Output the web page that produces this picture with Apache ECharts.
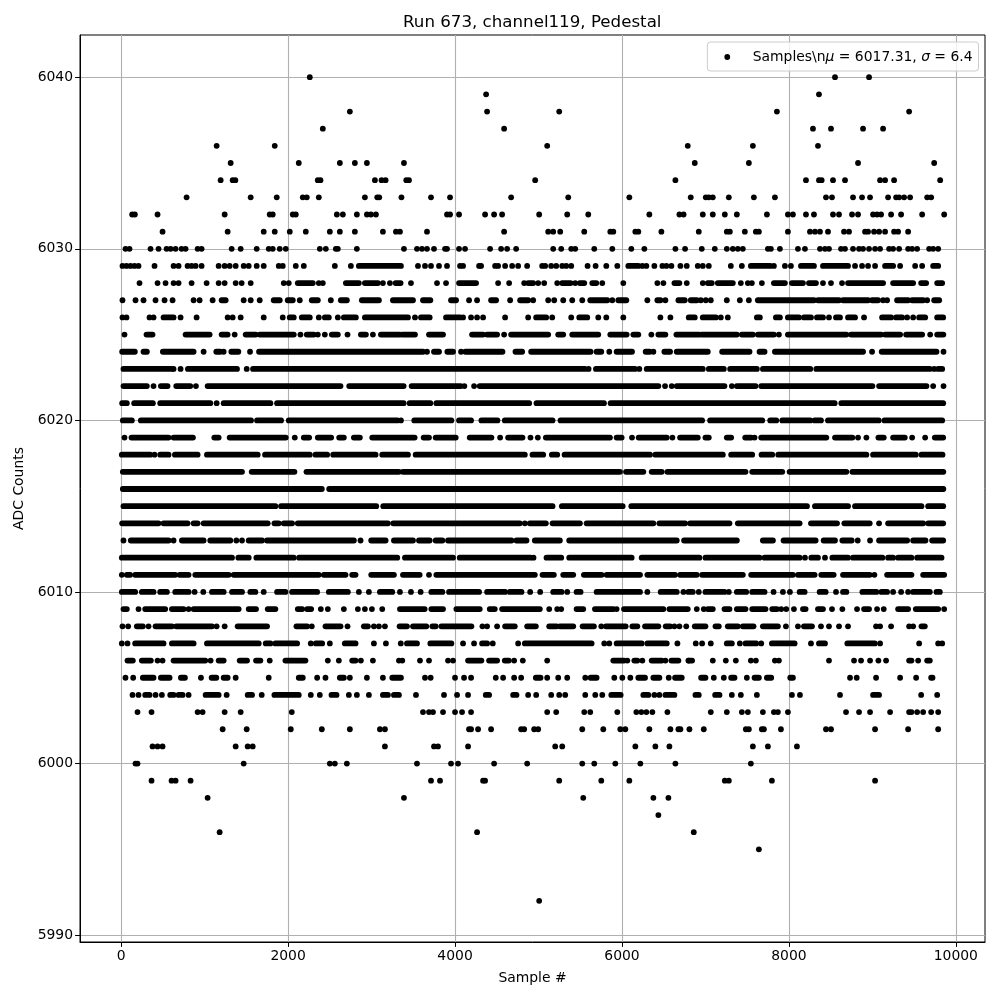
<!DOCTYPE html>
<html><head><meta charset="utf-8">
<style>html,body{margin:0;padding:0;background:#fff}#c{width:1000px;height:1000px}</style>
<script src="https://cdn.jsdelivr.net/npm/echarts@6/dist/echarts.min.js"></script>
</head><body><div id="c"></div>
<script>
// Each list holds the samples seen at one ADC level: a number is a single sample,
// a [first,last] pair is an unbroken run of samples that overlap in the picture.
const L6040=[2260,8552,8960];
const L6039=[4372,8360];
const L6038=[2740,4384,5248,7856,9440];
const L6037=[2416,4588,8288,8504,8888,9128];
const L6036=[1144,1840,5104,6788,7568,8348];
const L6035=[1312,2128,2620,2800,2944,3388,6872,7520,8828,9740];
const L6034=[1192,1336,1368,2356,2388,3040,3120,3168,3416,3448,4960,6640,8204,8360,8392,8528,8672,9092,9152,9260,9812];
const L6033=[784,1552,1864,2176,2224,2368,2920,3068,3092,3358,3712,3940,4672,5356,6088,6824,7004,7040,7088,7280,7580,7832,8444,8516,8768,8876,8972,9188,9284,9320,9380,9452,9656,9704];
const L6032=[132,164,436,1240,1780,1816,2056,2092,2584,2656,2824,2944,2992,3052,3904,3940,4048,4360,4468,4564,5008,5344,5596,6328,6688,6738,6968,7088,7232,7376,7736,7988,8048,8204,8300,8528,8600,8756,8828,9008,9056,9104,9224,9344,9596,9860];
const L6031=[496,1276,1708,1840,2020,2212,2500,2620,2800,3136,3292,3340,3664,4588,5116,5176,5260,5548,5860,5896,6160,6196,6472,6920,7256,7292,7472,7604,7640,7988,8252,8312,8372,8468,8660,8720,8912,8948,9020,9080,9152,9260,9308,9428];
const L6030=[52,100,352,448,544,592,652,724,772,916,964,1324,1432,1624,1768,1816,1900,1972,2380,2452,2572,2596,2824,3388,3544,3604,3664,3748,3880,3904,4048,4120,4420,4552,4624,4732,5176,5272,5392,5440,5668,5884,6112,6268,6640,6756,6956,7112,7256,7328,7388,7448,7748,7784,7892,8108,8192,8372,8432,8480,8624,8672,8768,8840,8888,8960,9032,9092,9200,9248,9320,9428,9476,9536,9680,9728,9788];
const L6029=[16,64,112,160,208,400,628,688,796,844,892,964,1168,1240,1300,1372,1468,1528,1624,1708,1888,1936,2092,2188,2560,2752,[2848,3352],3556,3640,3712,3808,3904,4060,4096,4288,4312,4480,4516,4600,4684,4756,4864,5044,5080,5152,5212,5284,5332,5392,5588,5684,5812,5944,[6076,6196],6244,6292,6388,6484,6532,6592,6700,6776,6908,6968,7040,7304,7436,[7544,7776],7820,7952,8024,[8144,8300],[8408,8708],8792,8876,8948,9032,[9152,9248],9332,9512,9596,[9728,9788]];
const L6028=[220,436,532,628,688,844,1024,1168,1240,1372,1444,1552,1948,2008,[2116,2296],2368,2416,[2692,2848],[2920,3076],3136,3220,[3288,3348],3472,3784,3892,[4048,4252],4516,4648,4828,[4876,4936],4996,5068,5224,[5284,5384],5440,[5496,5548],[5644,5692],5764,6016,6424,6496,[6628,6688],6776,6968,[7028,7076],[7148,7328],7424,7508,7556,7676,[7820,7952],[8036,8168],[8240,8324],8408,8504,8636,[8708,9128],[9248,9488],[9584,9644],[9776,9836]];
const L6027=[16,172,268,412,520,616,868,940,1096,[1204,1252],1468,1552,1660,[1828,1900],[1996,2056],2140,[2284,2356],2512,[2632,2704],[2884,3088],[3256,3496],[3616,3704],[3952,4012],4168,4264,[4432,4492],4660,[4780,4876],4936,5116,5188,5296,5404,5524,[5620,5824],5884,[5956,6052],6304,[6424,6460],6520,[6676,6752],[6824,6896],6944,7004,7064,7256,7412,7520,[7628,8300],[8348,8600],[8648,8948],[8996,9068],9128,9176,[9296,9428],[9476,9608],9656,[9740,9800]];
const L6026=[16,64,340,388,[508,628],712,904,1276,1336,1432,1708,1936,[2020,2068],[2164,2260],2368,[2440,2488],2596,[2668,2812],[2920,3436],3520,[3592,3696],[3892,4060],4096,4192,4264,4336,4600,4876,[4972,5092],5164,5392,[5488,5584],5716,5812,6016,6460,6580,[6800,6872],[6968,7124],7184,7268,[7616,7652],[7844,7892],[7988,8120],[8180,8264],[8336,8408],8480,[8564,8612],[8708,8792],8900,[9116,9224],[9284,9356],9416,9488,[9560,9632],[9776,9848]];
const L6025=[40,[304,376],[772,1060],[1204,1276],1360,[1492,1612],[1660,2068],2148,[2224,2308],2356,2440,[2524,2596],2712,[2872,2932],3016,[3112,3340],[3368,3520],[3688,3856],[4204,4336],[4384,4504],4588,[4672,5116],[5236,5296],[5404,5716],[5860,6056],[6136,6196],6352,[6436,6520],[6652,6928],[6956,7376],[7436,7568],[7628,7820],7880,[7988,8688],[8744,9104],[9152,9332],[9404,9596],9692,[9776,9850]];
const L6024=[[12,164],[268,308],[500,868],988,[1140,1188],1228,[1320,1404],1544,[1652,3616],3664,[3748,3808],[3908,3976],4072,[4124,4568],[4724,4804],[4912,5624],[5696,5752],5848,[5936,6120],[6284,6332],6376,[6508,6576],[6656,7028],[7200,7528],[7648,7708],[7832,8888],8996,[9112,9768],9852];
const L6023=[[28,608],628,712,[800,1388],1504,[1580,5556],5600,[5688,6156],6208,[6296,6968],[7040,7220],[7296,7616],[7688,8256],[8328,9688],9740,[9788,9836]];
const L6022=[[28,308],388,[476,556],[660,828],896,[1036,2628],[2732,3384],[3480,4068],4112,4228,[4296,6436],6516,6596,[6656,7228],7316,[7376,7600],[7668,9000],[9080,9648],9728,9852];
const L6021=[[12,68],[156,380],[468,1068],1144,[1228,1788],[1868,3384],[3456,3704],[3776,4888],[4976,5784],[5864,8548],[8628,9848]];
const L6020=[[20,128],[236,1556],[1628,1916],[2008,3308],3352,[3512,3956],[4048,4192],[4316,4508],[4596,5168],[5264,6960],[7056,7680],[7776,7848],[7920,8256],[8308,8384],[8468,9076],[9144,9836]];
const L6019=[40,[124,568],[628,860],[1116,1168],[1300,1972],2080,[2188,2252],[2356,2516],[2612,2668],[2788,2860],[3008,3516],[3624,3688],[3768,4008],[4176,4436],4540,[4636,4808],4904,4992,[5088,5856],[5936,5996],6120,[6200,6536],6604,[6696,6908],[7000,7040],[7256,7308],[7476,7548],7588,[7668,8448],[8552,8760],8828,8928,[9072,9136],[9248,9388],9476,9632,[9748,9848]];
const L6018=[[8,348],400,[468,568],[644,916],[1028,1636],[1724,2260],[2328,2468],[2540,3048],[3128,3436],[3528,4836],[4928,5056],[5160,5224],[5312,6336],[6400,7208],[7308,7560],[7672,7800],[7872,8928],[9008,9520],[9588,9840]];
const L6017=[[20,1448],[1564,2076],[2220,3328],[3376,5976],[6048,6256],[6356,6476],[6544,7480],[7560,7920],[8008,8688],[8760,9850]];
const L6016=[[20,2404],[2492,9850]];
const L6015=[[28,1848],[1916,3056],[3140,5168],[5280,6008],[6112,8216],[8312,8708],[8792,9588],[9668,9848]];
const L6014=[[12,448],[508,796],[868,916],[988,1756],[1836,1888],[1948,2048],[2116,3196],[3260,4776],4836,[4896,5088],[5168,5496],[5576,6376],[6448,6756],[6816,7288],[7388,8128],[8264,8576],[8664,8968],9080,[9188,9608],[9668,9848]];
const L6013=[28,[116,568],628,[728,988],[1068,1308],1380,1448,[1528,1688],[1748,2788],2868,[2996,3168],[3268,3496],[3568,3696],[3768,3848],[3916,4676],[4736,4856],[4956,5256],[5368,6656],[6744,7376],[7688,7808],[7936,8320],[8416,8552],[8640,8752],8824,8972,[9080,9416],[9488,9636],[9716,9848]];
const L6012=[[8,1328],[1404,1528],[1620,2068],[2132,3308],[3400,3976],[4056,4904],4940,[5096,5272],[5368,6116],[6236,6928],[7000,7648],[7708,8128],8192,[8268,8348],8432,[8520,8708],[8768,9120],[9188,9248],[9308,9468],[9536,9828]];
const L6011=[8,[68,108],[168,648],[700,808],[888,1288],[1348,2368],[2428,2688],[2768,2808],[2996,3268],[3376,3576],3688,[3776,4956],[5048,5184],[5296,5416],[5544,5756],[5816,6216],[6304,6636],[6696,6896],[6960,7448],[7548,8048],[8108,8308],[8388,8536],[8648,8968],9024,[9176,9468],[9608,9860]];
const L6010=[[8,168],[248,388],[468,548],[648,808],880,984,[1088,1228],[1328,1448],[1548,1608],1708,[1868,1968],[2048,2348],[2488,2716],2848,2968,[3100,3248],3340,3472,3588,[3716,3848],[3928,4288],[4384,4600],[4656,4796],4900,5020,[5176,5276],5344,[5456,5504],[5696,6216],6304,[6464,6656],6736,[6796,6848],6920,[7000,7228],7280,[7376,7488],[7560,7708],7816,7928,8012,[8128,8188],[8368,8440],8564,[8648,8688],[8880,9048],[9108,9176],9248,9344,9428,[9488,9688],[9768,9808]];
const L6009=[[28,68],208,[288,528],[608,748],808,[868,1408],[1528,1616],[1756,1848],[2116,2168],[2228,2276],2392,2476,2668,2836,2920,3004,3128,[3340,3636],[3716,3856],[4016,4296],[4416,4476],[4564,5016],5128,5224,5272,[5456,5536],[5676,5896],5936,[6024,6496],[6568,6788],6896,6980,[7028,7088],[7228,7288],[7376,7480],[7560,7720],[7800,7856],7908,7968,8060,[8168,8200],[8348,8408],8516,8640,8816,[8900,8960],9056,9136,[9308,9428],[9520,9788],9860];
const L6008=[16,84,[188,260],328,[412,608],[660,1088],1144,1240,[1396,1748],[2100,2228],2284,[2448,2628],2712,[2908,2956],3028,3088,3160,[3336,3424],[3496,3656],[3728,3768],[3836,4196],4328,4384,4504,[4600,4716],[4864,4968],[5128,5216],[5256,5416],[5528,5664],5752,[5808,6044],[6124,6184],[6276,6436],[6524,6576],6628,6688,6770,[6872,7000],[7120,7160],[7268,7388],[7448,7576],[7688,7868],7964,8108,[8180,8276],8384,8480,8600,8708,9044,9092,9224,9440,9488,[9588,9628]];
const L6007=[8,76,[168,508],[608,868],[1028,1648],[1732,1788],[1848,2108],2272,[2332,2408],2500,[2680,2808],3028,3172,3350,[3424,3544],[3704,3956],4096,4228,[4324,4384],4452,4756,[4836,5636],5788,5848,[5936,6236],[6304,6536],6664,6884,6960,7064,[7256,7316],7412,[7480,7608],7668,[7796,8068],8264,[8360,8432],[8700,9028],9092,9560,9788,9836];
const L6006=[[76,140],[248,356],436,496,[628,1008],1072,[1168,1228],[1420,1508],[1616,1668],1780,[1968,2208],2476,2608,[2768,2808],2872,3016,3328,3368,3580,3688,3916,3976,[4156,4316],[4408,4504],[4596,4644],4708,4812,5104,[5896,6024],6064,[6148,6184],6244,[6356,6476],6520,[6592,6676],6796,[6800,6840],7088,7244,7364,7544,7604,7832,7880,8480,8780,8864,8972,9072,9164,[9440,9468],9548,[9656,9688]];
const L6005=[52,144,[260,388],[476,580],[716,764],956,[1084,1140],[1228,1276],1372,1768,[2128,2176],2348,2448,[2620,2668],2740,2944,3136,[3248,3352],3640,3708,4000,4108,4192,4488,4576,4708,4792,[4968,5024],5104,5236,5344,5560,[5624,5696],5908,6004,6100,[6196,6276],[6376,6448],6560,[6636,6716],[6948,7000],7100,7220,[7308,7348],7496,[7588,7640],[7736,7788],[8016,8048],8732,8812,9044,9332,9524,[9704,9720]];
const L6004=[136,208,[288,340],412,488,[588,628],[688,736],808,[1012,1168],1264,[1516,1568],1684,[1836,2128],2272,2380,[2520,2580],2728,2824,2968,[3136,3196],[3268,3328],3532,3868,4024,4156,[4368,4408],[4696,4736],4876,4972,5152,5248,5320,5560,5680,5764,[5872,5984],[6256,6316],6388,6448,[6520,6628],[6880,6920],[7116,7168],7316,7424,7616,8036,8132,8612,[9008,9080],9584,9776];
const L6003=[196,364,916,976,1240,1432,2044,3616,3688,3736,3856,4000,4084,4192,5104,5212,5548,5620,5944,6172,6232,6292,6364,6544,7064,7256,7436,7508,7688,7820,7868,7988,8684,8840,8972,9212,9440,9468,9536,9608,9704,9788];
const L6002=[1216,1504,2032,2404,2740,3100,3160,4168,4192,4276,4432,4792,4828,4948,4996,5524,5776,5980,6040,6328,6580,6676,6700,6808,6980,7484,7520,7676,7700,7904,8444,8504,9032,9428,9788];
const L6001=[376,436,496,1372,1516,1576,3160,3748,3796,4156,5200,5284,6160,6400,6568,7568,7748,8096];
const L6000=[172,196,1468,2500,2560,2704,3544,3952,4036,4468,4864,5524,5668,5920,6220,6640,7544];
const L5999=[364,604,652,832,3712,3820,4336,4360,5248,5752,6088,7232,7280,7796,9032];
const L5998=[1036,3388,5536,6376,6556];
const L5997=[6436];
const L5996=[1180,4264,6860];
const L5995=[7640];
const L5992=[5008];

const levelValues=[6040,6039,6038,6037,6036,6035,6034,6033,6032,6031,6030,6029,6028,6027,6026,6025,6024,6023,6022,6021,6020,6019,6018,6017,6016,6015,6014,6013,6012,6011,6010,6009,6008,6007,6006,6005,6004,6003,6002,6001,6000,5999,5998,5997,5996,5995,5992];
const levelLists=[L6040,L6039,L6038,L6037,L6036,L6035,L6034,L6033,L6032,L6031,L6030,L6029,L6028,L6027,L6026,L6025,L6024,L6023,L6022,L6021,L6020,L6019,L6018,L6017,L6016,L6015,L6014,L6013,L6012,L6011,L6010,L6009,L6008,L6007,L6006,L6005,L6004,L6003,L6002,L6001,L6000,L5999,L5998,L5997,L5996,L5995,L5992];
const xTicks=[0,2000,4000,6000,8000,10000];
const yTicks=[5990,6000,6010,6020,6030,6040];
const titleText='Run 673, channel119, Pedestal';
const xName='Sample #';
const yName='ADC Counts';
const seriesName='Samples';

const dots=[],runs=[];
levelLists.forEach((list,i)=>list.forEach(e=>{
  if(Array.isArray(e)) runs.push([e[0],e[1],levelValues[i]]);
  else dots.push([e,levelValues[i]]);
}));
const FONT='"DejaVu Sans"';
const chart=echarts.init(document.getElementById('c'),null,{renderer:'canvas'});
const axisCommon={
  nameLocation:'middle',
  nameTextStyle:{fontFamily:FONT,fontSize:13.9,color:'#000'},
  axisLine:{show:true,onZero:false,lineStyle:{color:'#000',width:1}},
  splitLine:{show:true,lineStyle:{color:'#b0b0b0',width:1.1}}
};
chart.setOption({
  animation:false,
  backgroundColor:'#fff',
  title:{text:titleText,left:403,top:14,padding:0,
    textStyle:{fontFamily:FONT,fontSize:16.67,fontWeight:'normal',color:'#000'}},
  legend:{
    data:[{name:seriesName,icon:'circle'}],
    right:21.5,top:42,padding:[8,6,7,17],
    itemWidth:41,itemHeight:5.8,
    backgroundColor:'rgba(255,255,255,0.8)',borderColor:'#ccc',borderWidth:1,borderRadius:3,
    formatter:()=>'{a|Samples\\n}{i|μ}{a| = 6017.31, }{i|σ}{a| = 6.4}',
    textStyle:{fontFamily:FONT,fontSize:13.9,color:'#000',
      rich:{a:{fontFamily:FONT,fontSize:13.9,color:'#000'},i:{fontFamily:FONT,fontSize:13.9,fontStyle:'italic',color:'#000'}}}
  },
  grid:{left:80,right:15,top:35,bottom:58,show:true,borderColor:'#000',borderWidth:1,backgroundColor:'transparent'},
  xAxis:Object.assign({},axisCommon,{type:'value',min:-493,max:10349,name:xName,nameGap:29,
    axisTick:{show:true,length:4.9,customValues:xTicks,lineStyle:{color:'#000',width:1}},
    axisLabel:{customValues:xTicks,fontFamily:FONT,fontSize:13.9,color:'#000',margin:7,showMinLabel:true,showMaxLabel:true,formatter:v=>String(v)}}),
  yAxis:Object.assign({},axisCommon,{type:'value',min:5989.6,max:6042.46,name:yName,nameGap:50,
    axisTick:{show:true,length:4.9,customValues:yTicks,lineStyle:{color:'#000',width:1}},
    axisLabel:{customValues:yTicks,fontFamily:FONT,fontSize:13.9,color:'#000',margin:7,showMinLabel:true,showMaxLabel:true,formatter:v=>String(v)}}),
  series:[
    {name:seriesName,type:'scatter',symbol:'circle',symbolSize:5.8,data:dots,itemStyle:{color:'#000',opacity:1},z:3,silent:true},
    {type:'custom',data:runs,encode:{x:[0,1],y:2},z:3,silent:true,
      renderItem:(p,api)=>{
        const a=api.coord([api.value(0),api.value(2)]),b=api.coord([api.value(1),api.value(2)]);
        return {type:'line',shape:{x1:a[0],y1:a[1],x2:b[0],y2:b[1]},style:{stroke:'#000',lineWidth:5.8,lineCap:'round',fill:null}};
      }}
  ]
});
</script></body></html>
